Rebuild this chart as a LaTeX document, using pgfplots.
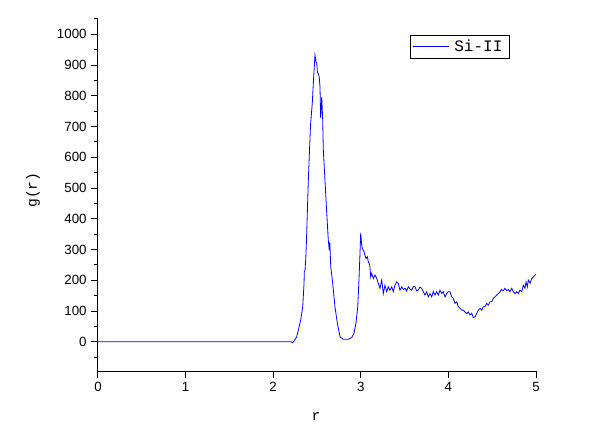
\documentclass[border=0pt]{standalone}
\usepackage{fontspec}
\setmainfont{Liberation Sans}
\newfontfamily\labelfont{Liberation Mono}
\usepackage{pgfplots}
\pgfplotsset{compat=1.18}

\begin{document}
\begin{tikzpicture}[x=1pt,y=1pt]
\path[use as bounding box] (-73.5,-48.75) rectangle (381,278.25);
\begin{axis}[
  at={(0,0)}, anchor=south west,
  scale only axis,
  width=328.5pt, height=264pt,
  xmin=0, xmax=5,
  ymin=-95, ymax=1050,
  xtick={0,1,2,3,4,5},
  ytick={0,100,...,1000},
  minor ytick={-50,50,150,...,1050},
  axis x line*=bottom,
  axis y line*=left,
  axis line style={-, line width=0.75pt},
  tick align=outside,
  tick style={black, line width=0.75pt},
  major tick length=5pt,
  minor tick length=3pt,
  /pgf/number format/assume math mode=true,
  /pgf/number format/1000 sep={},
  tick label style={font=\fontsize{10}{12}\selectfont},
  xlabel={r}, ylabel={g(r)},
  label style={font=\labelfont\fontsize{11}{13}\selectfont},
  x label style={at={(axis description cs:0.498,-0.128)}, anchor=center},
  y label style={at={(axis description cs:-0.148,0.514)}, anchor=center},
  legend style={at={(axis description cs:0.712,0.955)}, anchor=north west,
    draw=black, line width=0.6pt, font=\labelfont\fontsize{12}{14}\selectfont,
    inner sep=1.5pt, nodes={inner xsep=4pt}},
  legend cell align=left,
  legend image code/.code={\draw[#1] (-2pt,0pt) -- (25pt,0pt);},
]
\addplot[blue, line width=0.6pt] coordinates {
(0,0) (2.203,0) (2.220,-3) (2.237,2) (2.268,16) (2.287,38) (2.314,71)
(2.337,114) (2.352,190) (2.355,228) (2.363,233) (2.371,266) (2.380,331)
(2.401,526) (2.426,705) (2.446,776) (2.460,851) (2.477,933) (2.489,910)
(2.497,906) (2.505,877) (2.514,873) (2.525,862) (2.534,830) (2.542,728)
(2.554,797) (2.565,721) (2.572,624) (2.591,526) (2.611,419) (2.629,331)
(2.640,298) (2.646,325) (2.657,244) (2.679,191) (2.705,114) (2.732,61)
(2.763,16) (2.800,8) (2.857,8) (2.896,14) (2.922,27) (2.945,61)
(2.965,114) (2.979,201) (2.991,289) (2.999,354) (3.010,315) (3.017,304)
(3.028,298) (3.037,293) (3.048,282) (3.059,271) (3.074,277) (3.086,260)
(3.102,250) (3.113,211) (3.124,223) (3.143,206) (3.162,217) (3.182,206)
(3.200,190) (3.219,174) (3.239,201) (3.257,157) (3.276,184) (3.296,163)
(3.314,179) (3.333,168) (3.353,179) (3.371,163) (3.390,184) (3.410,195)
(3.428,190) (3.447,168) (3.467,179) (3.486,170) (3.505,174) (3.523,165)
(3.542,179) (3.561,172) (3.581,168) (3.600,180) (3.619,179) (3.637,166)
(3.656,168) (3.675,178) (3.695,174) (3.714,163) (3.733,152) (3.752,163)
(3.770,146) (3.790,157) (3.809,146) (3.828,163) (3.847,152) (3.866,163)
(3.885,152) (3.904,168) (3.924,157) (3.942,163) (3.961,146) (3.981,157)
(3.999,163) (4.018,163) (4.038,146) (4.056,141) (4.075,125) (4.095,130)
(4.113,114) (4.132,109) (4.152,103) (4.170,103) (4.189,97) (4.209,92)
(4.227,97) (4.247,87) (4.266,93) (4.284,79) (4.304,81) (4.323,92)
(4.341,103) (4.361,109) (4.380,103) (4.398,114) (4.418,114) (4.437,125)
(4.455,119) (4.475,130) (4.494,130) (4.512,141) (4.532,146) (4.551,152)
(4.570,157) (4.589,163) (4.608,170) (4.627,166) (4.646,174) (4.666,166)
(4.684,170) (4.703,163) (4.723,174) (4.741,163) (4.760,157) (4.780,163)
(4.798,157) (4.817,168) (4.837,163) (4.855,184) (4.874,174) (4.886,195)
(4.901,179) (4.912,201) (4.932,190) (4.951,206) (4.969,211) (4.989,217)
(5.000,220)
};
\addlegendentry{Si-II}
\end{axis}
\end{tikzpicture}
\end{document}
